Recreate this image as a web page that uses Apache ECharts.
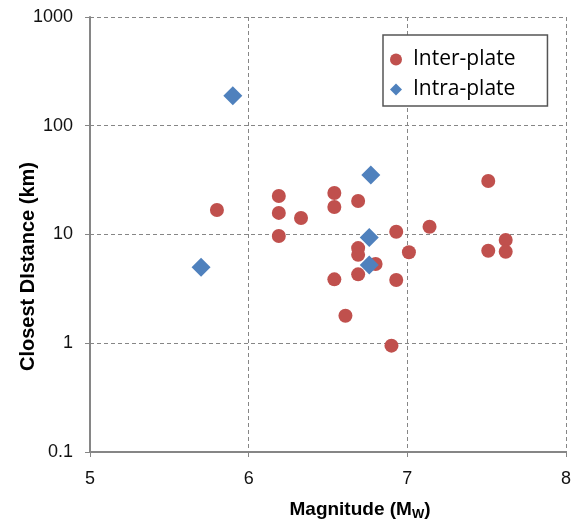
<!DOCTYPE html>
<html>
<head>
<meta charset="utf-8">
<script src="https://cdn.jsdelivr.net/npm/echarts@6/dist/echarts.min.js"></script>
<style>
  html, body { margin: 0; padding: 0; background: #fff; }
  #chart { width: 580px; height: 519px; }
</style>
</head>
<body>
<div id="chart"></div>
<script>
// magnitude (Mw) and closest distance (km)
const interMag = [5.80, 6.19, 6.19, 6.19, 6.33, 6.54, 6.54, 6.69, 6.69, 6.69, 6.69, 6.54, 6.61, 6.90, 6.93, 6.80, 6.93, 7.01, 7.14, 7.51, 7.51, 7.62, 7.62]
const interDist = [16.8, 22.6, 15.8, 9.7, 14.2, 24.1, 17.9, 20.3, 7.5, 6.5, 4.3, 3.87, 1.79, 0.95, 3.82, 5.35, 10.6, 6.86, 11.8, 31.0, 7.1, 8.9, 6.95]
const intraMag = [5.90, 5.70, 6.77, 6.76, 6.76]
const intraDist = [189, 4.99, 35.2, 9.4, 5.24]
const seriesNames = ['Inter-plate', 'Intra-plate']

const pairs = (xs, ys) => xs.map((x, i) => [x, ys[i]])

var myChart = echarts.init(document.getElementById('chart'))

const axisGray = '#868686'
const labelFont = {
  fontFamily: 'Liberation Sans',
  fontSize: 18,
  color: '#111',
}

var option = {
  animation: false,
  grid: {
    left: 90,
    right: 14,
    top: 17,
    bottom: 67,
    outerBoundsMode: 'none',
  },
  legend: {
    orient: 'vertical',
    left: 383,
    top: 35,
    width: 164,
    padding: [14, 32, 6, 7],
    itemGap: 9,
    itemWidth: 12,
    itemHeight: 12,
    borderColor: '#555',
    borderWidth: 1.5,
    backgroundColor: '#fff',
    textStyle: {
      fontFamily: 'Open Sans',
      fontSize: 21,
      color: '#000',
      padding: [0, 0, 0, 6],
    },
    data: [
      { name: seriesNames[0], icon: 'circle' },
      { name: seriesNames[1], icon: 'diamond' },
    ],
  },
  xAxis: {
    type: 'value',
    min: 5,
    max: 8,
    interval: 1,
    name: 'Magnitude (M{sub|W})',
    nameLocation: 'middle',
    nameMoveOverlap: false,
    nameGap: 46,
    nameTextStyle: {
      fontFamily: 'Liberation Sans',
      fontWeight: 'bold',
      fontSize: 19,
      color: '#000',
      padding: [0, 0, 0, 64],
      rich: {
        sub: {
          fontFamily: 'Liberation Sans',
          fontWeight: 'bold',
          fontSize: 13,
          color: '#000',
          padding: [10, 0, 0, 0],
        },
      },
    },
    axisLine: { show: true, lineStyle: { color: axisGray, width: 2 } },
    axisTick: { show: true, length: 5, lineStyle: { color: axisGray } },
    axisLabel: { ...labelFont, margin: 18 },
    splitLine: {
      show: true,
      lineStyle: { color: axisGray, type: [4, 3], width: 1 },
    },
  },
  yAxis: {
    type: 'log',
    logBase: 10,
    min: 0.1,
    max: 1000,
    name: 'Closest DIstance (km)',
    nameLocation: 'middle',
    nameMoveOverlap: false,
    nameGap: 52,
    nameTextStyle: {
      fontFamily: 'Liberation Sans',
      fontWeight: 'bold',
      fontSize: 20,
      color: '#000',
      padding: [0, 64, 0, 0],
    },
    axisLine: { show: true, lineStyle: { color: axisGray, width: 2 } },
    axisTick: { show: true, length: 5, lineStyle: { color: axisGray } },
    axisLabel: {
      ...labelFont,
      margin: 17,
      formatter: (v) => String(v),
    },
    splitLine: {
      show: true,
      lineStyle: { color: axisGray, type: [4, 3], width: 1 },
    },
  },
  series: [
    {
      name: seriesNames[0],
      type: 'scatter',
      symbol: 'circle',
      symbolSize: 14,
      itemStyle: { color: '#C0504D', opacity: 1 },
      data: pairs(interMag, interDist),
      z: 2,
    },
    {
      name: seriesNames[1],
      type: 'scatter',
      symbol: 'diamond',
      symbolSize: 19,
      itemStyle: { color: '#4F81BD', opacity: 1 },
      data: pairs(intraMag, intraDist),
      z: 3,
    },
  ],
}

myChart.setOption(option)
</script>
</body>
</html>
